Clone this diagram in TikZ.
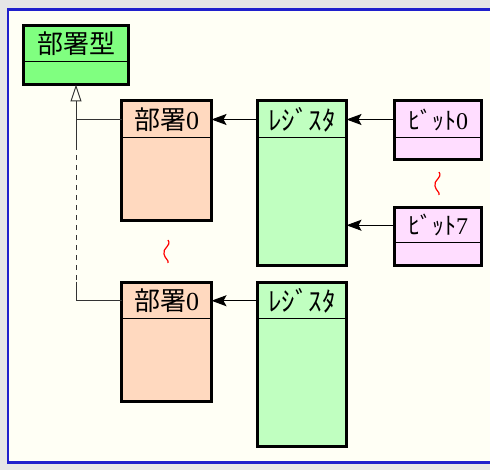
\documentclass[tikz,border=0pt]{standalone}
\usepackage{fontspec}
\setmainfont{Liberation Serif}
\newfontfamily\cjk{Noto Sans CJK JP}
\usetikzlibrary{fit,calc,arrows.meta}
\definecolor{bgray}{HTML}{E6E6E6}
\definecolor{ivory}{HTML}{FFFFF5}
\definecolor{frameblue}{HTML}{2020CC}
\definecolor{typegreen}{HTML}{80FF80}
\definecolor{peach}{HTML}{FFD9BF}
\definecolor{regreen}{HTML}{C0FFC0}
\definecolor{bitpink}{HTML}{FFDDFF}
\tikzset{
  boxouter/.style={draw=black, line width=3pt, inner sep=0pt, outer sep=0pt},
  boxhead/.style={inner sep=0pt, outer sep=0pt},
  bigtxt/.style={inner sep=0pt, font=\fontsize{26}{30}\selectfont},
  regtxt/.style={inner sep=0pt, font=\fontsize{27}{30}\selectfont},
  kanatxt/.style={inner sep=0pt, font=\fontsize{24}{28}\selectfont},
  divider/.style={draw=black, line width=1pt},
  arr/.style={draw=black, line width=1pt, -{Stealth[length=15pt,width=11pt,inset=3pt]}},
  inh/.style={draw=black!80, line width=1pt, -{Triangle[open,length=17pt,width=11pt]}},
  conn/.style={draw=black!80, line width=1pt},
  squig/.style={draw=red, line width=1.2pt}
}
% name, x1, y1, x2, y2, ydivider, fill, text style, text
\newcommand\umlbox[9]{%
  \node[boxouter, fill=#7, fit={(#2,#3) (#4,#5)}] (#1) {};
  \node[boxhead, fit={(#2,#3) (#4,#6)}] (#1h) {};
  \draw[divider] (#1h.south west) -- (#1h.south east);
  \node[boxouter, fit={(#2,#3) (#4,#5)}] (#1b) {};
  \node[#8] (#1t) at (#1h.center) {#9};
}
\begin{document}
\begin{tikzpicture}[x=1pt,y=-1pt]
\useasboundingbox (0,0) rectangle (490,470);
\fill[bgray] (0,0) rectangle (490,470);
\draw[frameblue, line width=2.5pt, fill=ivory] (8,9.5) rectangle (500,462.5);

\umlbox{type}{23.5}{25.5}{128.5}{84.5}{62}{typegreen}{bigtxt}{{\cjk 部署型}}
\umlbox{deptA}{121.5}{101}{211.5}{220.5}{138}{peach}{bigtxt}{{\cjk 部署}0}
\umlbox{regA}{257.5}{101}{346.5}{265.5}{138}{regreen}{regtxt}{{\cjk ﾚｼﾞｽﾀ}}
\umlbox{bitA}{394.5}{101}{481.5}{159.5}{138}{bitpink}{kanatxt}{{\cjk ﾋﾞｯﾄ}0}
\umlbox{bitB}{394.5}{207.5}{481.5}{265.5}{243}{bitpink}{kanatxt}{{\cjk ﾋﾞｯﾄ}7}
\umlbox{deptB}{121.5}{282.5}{211.5}{401.5}{319}{peach}{bigtxt}{{\cjk 部署}0}
\umlbox{regB}{257.5}{282.5}{346.5}{446.5}{319}{regreen}{regtxt}{{\cjk ﾚｼﾞｽﾀ}}

% associations
\draw[arr] (bitAh.west) -- (bitAh.west -| regA.east);
\draw[arr] (bitBh.west) -- (bitBh.west -| regA.east);
\draw[arr] (regAh.west) -- (regAh.west -| deptA.east);
\draw[arr] (regBh.west) -- (regBh.west -| deptB.east);

% generalization
\coordinate (j1) at (deptAh.west -| type.south);
\coordinate (j2) at (deptBh.west -| type.south);
\draw[inh] (j1) -- (type.south);
\draw[conn] (deptAh.west) -- (j1) -- ($(j1)+(0,26)$) coordinate (d1);
\draw[conn, dash pattern=on 5pt off 5pt] (d1) -- ($(j2)+(0,-19)$) coordinate (d2);
\draw[conn] (d2) -- (j2) -- (deptBh.west);

% omission marks
\draw[squig] (168,240) .. controls (172,246) and (162,248) .. (164,254) .. controls (165,259) and (169,260) .. (168,263);
\draw[squig] (439,172) .. controls (443,178) and (433,180) .. (435,186) .. controls (436,191) and (440,192) .. (439,195);
\end{tikzpicture}
\end{document}
